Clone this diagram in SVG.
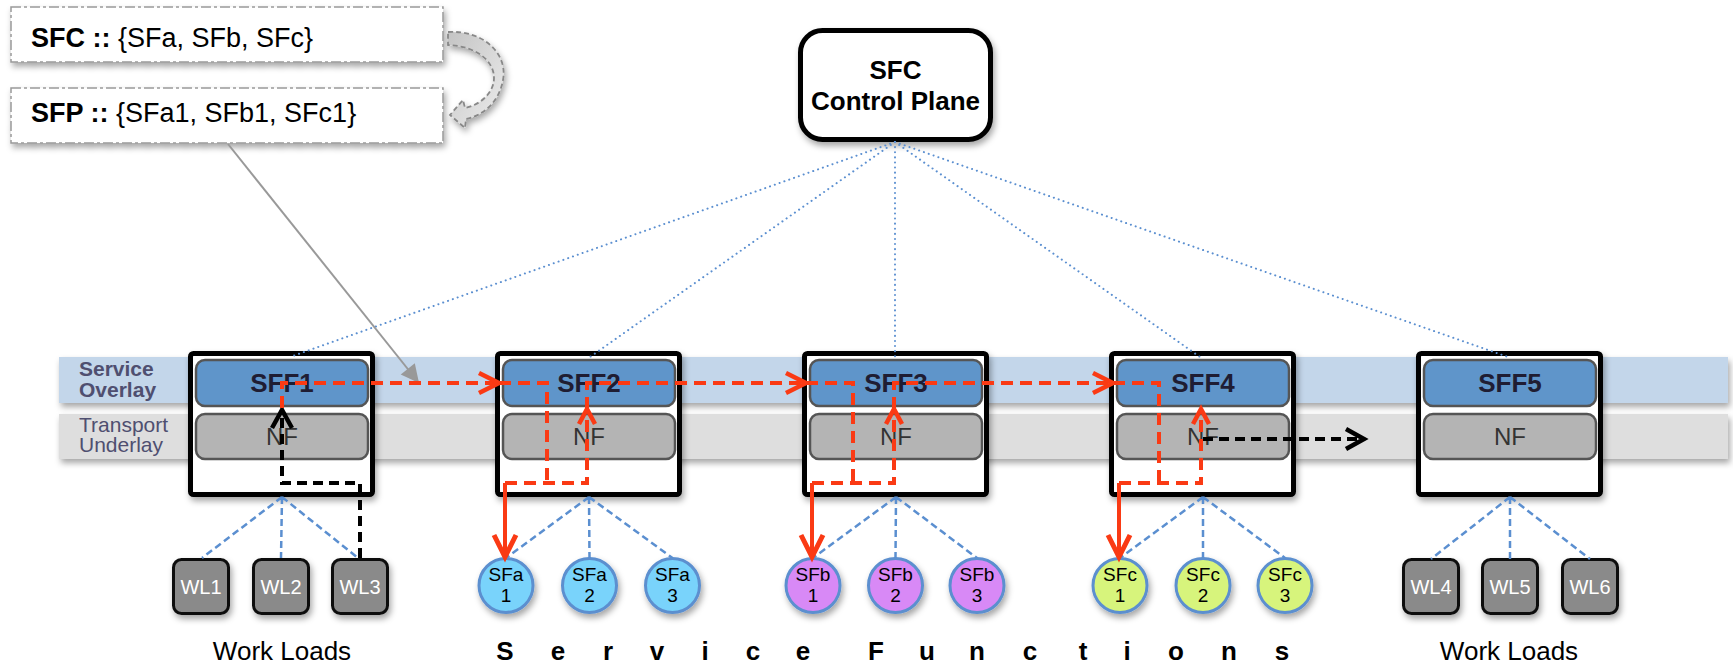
<svg xmlns="http://www.w3.org/2000/svg" width="1733" height="666" viewBox="0 0 1733 666">
<style>
.lbl{font-family:"Liberation Sans",Arial,sans-serif}
.band-t{font-family:"Liberation Sans",Arial,sans-serif;fill:#4f4f70;font-size:21px}
.frame{fill:#fff;stroke:#000;stroke-width:5}
.sffb{fill:#5f95ca;stroke:#555;stroke-width:2.5}
.nf{fill:#b4b4b4;stroke:#555;stroke-width:2.5}
.sfft{font-family:"Liberation Sans",Arial,sans-serif;font-weight:bold;font-size:26px;fill:#1f1d33;text-anchor:middle}
.nft{font-family:"Liberation Sans",Arial,sans-serif;font-size:24px;fill:#333;text-anchor:middle}
.wl{fill:#8a8a8a;stroke:#111;stroke-width:3}
.wlt{font-family:"Liberation Sans",Arial,sans-serif;font-size:20px;fill:#fff;text-anchor:middle}
.sf{stroke:#5b8fcf;stroke-width:3}
.sft{font-family:"Liberation Sans",Arial,sans-serif;font-size:19px;fill:#000;text-anchor:middle}
.dot{stroke:#5b8fd0;stroke-width:2;stroke-dasharray:0.1 5;stroke-linecap:round;fill:none}
.dash{stroke:#5b8fd0;stroke-width:2.5;stroke-dasharray:7 4;fill:none}
.red{stroke:#fa3a14;stroke-width:4;stroke-dasharray:12 7;fill:none}
.reds{stroke:#fa3a14;stroke-width:4;fill:none}
.blk{stroke:#000;stroke-width:4;stroke-dasharray:10 6;fill:none}
.note{fill:#fff;stroke:#999;stroke-width:1.5;stroke-dasharray:10 3 3 3}
.bottom{font-family:"Liberation Sans",Arial,sans-serif;font-size:26px;fill:#000;text-anchor:middle}
</style>
<defs>
<filter id="sh" x="-20%" y="-30%" width="140%" height="170%">
<feDropShadow dx="2" dy="4" stdDeviation="3" flood-color="#000" flood-opacity="0.35"/>
</filter>
<linearGradient id="cg" x1="0" y1="0" x2="1" y2="1">
<stop offset="0" stop-color="#c4c4c4"/>
<stop offset="1" stop-color="#ececec"/>
</linearGradient>
<marker id="arR" markerUnits="userSpaceOnUse" viewBox="-24 -14 28 28" markerWidth="28" markerHeight="28" refX="0" refY="0" orient="auto" overflow="visible">
<path d="M-20,-10 L0,0 L-20,10" fill="none" stroke="#fa3a14" stroke-width="4.5" stroke-linejoin="miter"/>
</marker>
<marker id="arRs" markerUnits="userSpaceOnUse" viewBox="-24 -14 28 28" markerWidth="28" markerHeight="28" refX="0" refY="0" orient="auto" overflow="visible">
<path d="M-15,-8 L0,0 L-15,8" fill="none" stroke="#fa3a14" stroke-width="4.5"/>
</marker>
<marker id="arRb" markerUnits="userSpaceOnUse" viewBox="-26 -14 30 28" markerWidth="30" markerHeight="28" refX="0" refY="0" orient="auto" overflow="visible">
<path d="M-22,-11 L0,0 L-22,11" fill="none" stroke="#fa3a14" stroke-width="5"/>
</marker>
<marker id="arK" markerUnits="userSpaceOnUse" viewBox="-24 -14 28 28" markerWidth="28" markerHeight="28" refX="0" refY="0" orient="auto" overflow="visible">
<path d="M-18,-10 L0,0 L-18,10" fill="none" stroke="#000" stroke-width="4.5"/>
</marker>
<marker id="arG" markerUnits="userSpaceOnUse" viewBox="-20 -10 22 20" markerWidth="22" markerHeight="20" refX="0" refY="0" orient="auto" overflow="visible">
<path d="M-18,-9 L0,0 L-18,9 Z" fill="#999"/>
</marker>
</defs>

<!-- bands -->
<g id="bands">
<rect x="59" y="357" width="1669" height="46" fill="#c3d6ea" filter="url(#sh)"/>
<rect x="59" y="414" width="1669" height="45" fill="#dedede" filter="url(#sh)"/>
<text class="band-t" x="79" y="376" font-weight="bold">Service</text>
<text class="band-t" x="79" y="397" font-weight="bold">Overlay</text>
<text class="band-t" x="79" y="432">Transport</text>
<text class="band-t" x="79" y="452">Underlay</text>
</g>

<!-- notes -->
<g id="sfc-note">
<rect class="note" x="11" y="7" width="432" height="55" filter="url(#sh)"/>
<text class="lbl" x="31" y="47" font-size="27px"><tspan font-weight="bold">SFC ::</tspan> {SFa, SFb, SFc}</text>
</g>
<g id="sfp-note">
<rect class="note" x="11" y="88" width="432" height="55" filter="url(#sh)"/>
<text class="lbl" x="31" y="122" font-size="27px"><tspan font-weight="bold">SFP ::</tspan> {SFa1, SFb1, SFc1}</text>
</g>
<g id="curved-arrow">
<path d="M448,32 C485,30 508,55 503,80 C499,103 482,116 466,119 L465,128 L450,115 L463,100 L465,108 C480,105 494,93 494,78 C494,60 475,46 448,45 Z" fill="url(#cg)" stroke="#888" stroke-width="1.8" stroke-dasharray="5 3" filter="url(#sh)"/>
</g>

<!-- control plane -->
<g id="control-plane">
<rect x="800.5" y="30.5" width="190" height="109" rx="22" fill="#fff" stroke="#000" stroke-width="5" filter="url(#sh)"/>
<text class="lbl" x="895.5" y="79" font-size="26px" font-weight="bold" text-anchor="middle">SFC</text>
<text class="lbl" x="895.5" y="110" font-size="26px" font-weight="bold" text-anchor="middle">Control Plane</text>
</g>

<!-- SFF nodes -->
<g id="sff1">
<rect class="frame" x="190.5" y="353.5" width="182" height="141" rx="3" filter="url(#sh)"/>
<rect class="sffb" x="196" y="360" width="172" height="46" rx="9"/>
<rect class="nf" x="196" y="414" width="172" height="45" rx="9"/>
<text class="sfft" x="282" y="392">SFF1</text>
<text class="nft" x="282" y="445">NF</text>
</g>
<g id="sff2">
<rect class="frame" x="497.5" y="353.5" width="182" height="141" rx="3" filter="url(#sh)"/>
<rect class="sffb" x="503" y="360" width="172" height="46" rx="9"/>
<rect class="nf" x="503" y="414" width="172" height="45" rx="9"/>
<text class="sfft" x="589" y="392">SFF2</text>
<text class="nft" x="589" y="445">NF</text>
</g>
<g id="sff3">
<rect class="frame" x="804.5" y="353.5" width="182" height="141" rx="3" filter="url(#sh)"/>
<rect class="sffb" x="810" y="360" width="172" height="46" rx="9"/>
<rect class="nf" x="810" y="414" width="172" height="45" rx="9"/>
<text class="sfft" x="896" y="392">SFF3</text>
<text class="nft" x="896" y="445">NF</text>
</g>
<g id="sff4">
<rect class="frame" x="1111.5" y="353.5" width="182" height="141" rx="3" filter="url(#sh)"/>
<rect class="sffb" x="1117" y="360" width="172" height="46" rx="9"/>
<rect class="nf" x="1117" y="414" width="172" height="45" rx="9"/>
<text class="sfft" x="1203" y="392">SFF4</text>
<text class="nft" x="1203" y="445">NF</text>
</g>
<g id="sff5">
<rect class="frame" x="1418.5" y="353.5" width="182" height="141" rx="3" filter="url(#sh)"/>
<rect class="sffb" x="1424" y="360" width="172" height="46" rx="9"/>
<rect class="nf" x="1424" y="414" width="172" height="45" rx="9"/>
<text class="sfft" x="1510" y="392">SFF5</text>
<text class="nft" x="1510" y="445">NF</text>
</g>

<!-- leaf nodes -->
<g id="wl1"><rect class="wl" x="173.5" y="559.5" width="55" height="54" rx="8" filter="url(#sh)"/><text class="wlt" x="201" y="594">WL1</text></g>
<g id="wl2"><rect class="wl" x="253.5" y="559.5" width="55" height="54" rx="8" filter="url(#sh)"/><text class="wlt" x="281" y="594">WL2</text></g>
<g id="wl3"><rect class="wl" x="332.5" y="559.5" width="55" height="54" rx="8" filter="url(#sh)"/><text class="wlt" x="360" y="594">WL3</text></g>
<g id="wl4"><rect class="wl" x="1403.5" y="559.5" width="55" height="54" rx="8" filter="url(#sh)"/><text class="wlt" x="1431" y="594">WL4</text></g>
<g id="wl5"><rect class="wl" x="1482.5" y="559.5" width="55" height="54" rx="8" filter="url(#sh)"/><text class="wlt" x="1510" y="594">WL5</text></g>
<g id="wl6"><rect class="wl" x="1562.5" y="559.5" width="55" height="54" rx="8" filter="url(#sh)"/><text class="wlt" x="1590" y="594">WL6</text></g>

<g id="sfa1"><circle class="sf" cx="506" cy="585.5" r="27" fill="#79d3fb" filter="url(#sh)"/><text class="sft" x="506" y="581">SFa</text><text class="sft" x="506" y="602">1</text></g>
<g id="sfa2"><circle class="sf" cx="589.5" cy="585.5" r="27" fill="#79d3fb" filter="url(#sh)"/><text class="sft" x="589.5" y="581">SFa</text><text class="sft" x="589.5" y="602">2</text></g>
<g id="sfa3"><circle class="sf" cx="672.5" cy="585.5" r="27" fill="#79d3fb" filter="url(#sh)"/><text class="sft" x="672.5" y="581">SFa</text><text class="sft" x="672.5" y="602">3</text></g>
<g id="sfb1"><circle class="sf" cx="813" cy="585.5" r="27" fill="#d889f6" filter="url(#sh)"/><text class="sft" x="813" y="581">SFb</text><text class="sft" x="813" y="602">1</text></g>
<g id="sfb2"><circle class="sf" cx="895.5" cy="585.5" r="27" fill="#d889f6" filter="url(#sh)"/><text class="sft" x="895.5" y="581">SFb</text><text class="sft" x="895.5" y="602">2</text></g>
<g id="sfb3"><circle class="sf" cx="977" cy="585.5" r="27" fill="#d889f6" filter="url(#sh)"/><text class="sft" x="977" y="581">SFb</text><text class="sft" x="977" y="602">3</text></g>
<g id="sfc1"><circle class="sf" cx="1120" cy="585.5" r="27" fill="#d7f47b" filter="url(#sh)"/><text class="sft" x="1120" y="581">SFc</text><text class="sft" x="1120" y="602">1</text></g>
<g id="sfc2"><circle class="sf" cx="1203" cy="585.5" r="27" fill="#d7f47b" filter="url(#sh)"/><text class="sft" x="1203" y="581">SFc</text><text class="sft" x="1203" y="602">2</text></g>
<g id="sfc3"><circle class="sf" cx="1285" cy="585.5" r="27" fill="#d7f47b" filter="url(#sh)"/><text class="sft" x="1285" y="581">SFc</text><text class="sft" x="1285" y="602">3</text></g>

<!-- connectors -->
<g id="connectors">
<path class="dot" d="M895,142 L290,357"/>
<path class="dot" d="M895,142 L590,357"/>
<path class="dot" d="M895,142 L895,357"/>
<path class="dot" d="M895,142 L1200,357"/>
<path class="dot" d="M895,142 L1508,357"/>

<path class="dash" d="M282,497 L202,558 M282,497 L281,558 M282,497 L358,558"/>
<path class="dash" d="M589,497 L506,558 M589,497 L589.5,558 M589,497 L672.5,558"/>
<path class="dash" d="M896,497 L813,558 M896,497 L895.5,558 M896,497 L977,558"/>
<path class="dash" d="M1203,497 L1120,558 M1203,497 L1203,558 M1203,497 L1285,558"/>
<path class="dash" d="M1510,497 L1431,559 M1510,497 L1510,559 M1510,497 L1590,559"/>

<line x1="228" y1="144" x2="419" y2="383" stroke="#999" stroke-width="2" marker-end="url(#arG)"/>

<path class="blk" d="M360,558 V483 H282 V410" marker-end="url(#arK)"/>
<path class="blk" d="M1203,439 H1364" marker-end="url(#arK)"/>

<path class="red" d="M282,408 V383 H499" marker-end="url(#arR)"/>
<path class="red" d="M499,383 H547 V483"/>
<path class="red" d="M505,483 H587 V409" marker-end="url(#arRs)"/>
<path class="reds" d="M505,483 V557" marker-end="url(#arRb)"/>
<path class="red" d="M587,409 V383 H806" marker-end="url(#arR)"/>

<path class="red" d="M806,383 H853 V483"/>
<path class="red" d="M812,483 H894 V409" marker-end="url(#arRs)"/>
<path class="reds" d="M812,483 V557" marker-end="url(#arRb)"/>
<path class="red" d="M894,409 V383 H1113" marker-end="url(#arR)"/>

<path class="red" d="M1113,383 H1159 V483"/>
<path class="red" d="M1119,483 H1201 V409" marker-end="url(#arRs)"/>
<path class="reds" d="M1119,483 V557" marker-end="url(#arRb)"/>
</g>

<!-- bottom labels -->
<g id="labels">
<text class="bottom" x="282" y="660">Work Loads</text>
<text class="bottom" x="1509" y="660">Work Loads</text>
<text class="bottom" font-weight="bold" x="505 558 608 657 705 753 803 876 927 977 1030 1083 1127 1176 1229 1282" y="660">ServiceFunctions</text>
</g>
</svg>
